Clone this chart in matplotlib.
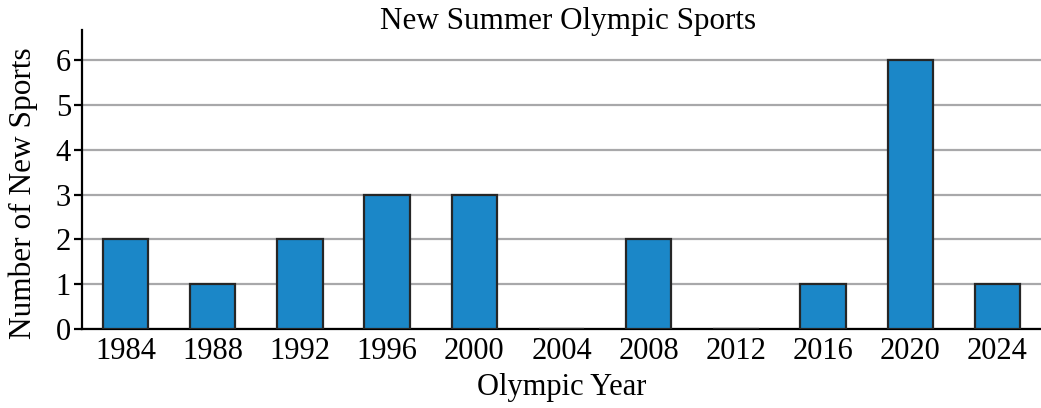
import numpy as np
import matplotlib.pyplot as plt

plt.rcParams['font.family'] = ['Liberation Serif', 'DejaVu Serif']

years = ['1984', '1988', '1992', '1996', '2000', '2004', '2008', '2012', '2016', '2020', '2024']
new_sports = [2, 1, 2, 3, 3, 0, 2, 0, 1, 6, 1]

fig = plt.figure(figsize=(10.41, 4.08), dpi=100)
ax = fig.add_axes([0.0788, 0.1936, 0.9212, 0.7329])

x = np.arange(len(years))
ax.bar(x, new_sports, width=0.52, color='#1b87c8', edgecolor='#262626', linewidth=1.6, zorder=3)

ax.set_xlim(-0.5, 10.5)
ax.set_ylim(0, 6.67)
ax.set_xticks(x)
ax.set_xticklabels(years)
ax.set_yticks(range(7))
ax.yaxis.grid(True, color='#a8a8aa', linewidth=1.6, zorder=0)
ax.set_axisbelow(True)

for s in ['top', 'right']:
    ax.spines[s].set_visible(False)
ax.spines['left'].set_linewidth(1.6)
ax.spines['bottom'].set_linewidth(1.6)
ax.tick_params(axis='x', length=0, labelsize=22, pad=6)
ax.tick_params(axis='y', length=6, width=1.6, labelsize=22, pad=2)

# title placed by hand, baseline just above the plot area
fig.text(0.5456, 0.9289, 'New Summer Olympic Sports', fontsize=22.4, ha='center', va='baseline')
ax.set_xlabel('Olympic Year', fontsize=22, labelpad=5)
ax.set_ylabel('Number of New Sports', fontsize=22.5)
ax.yaxis.set_label_coords(-0.046, 0.453)

fig.savefig('out.png', dpi=100)
